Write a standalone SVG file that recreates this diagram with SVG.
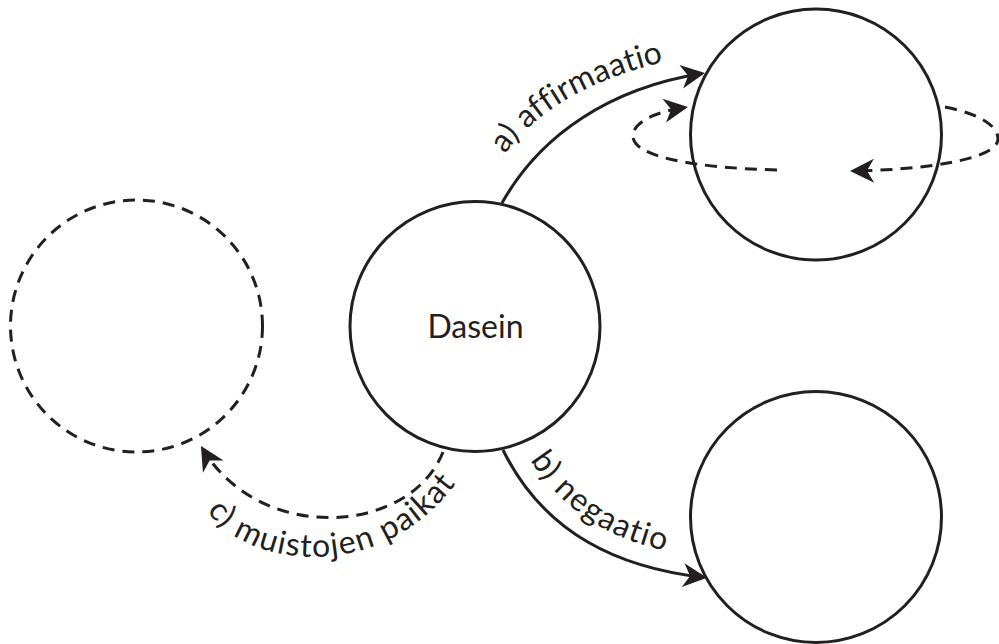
<svg xmlns="http://www.w3.org/2000/svg" width="999" height="644" viewBox="0 0 999 644">
  <style>
    .node { fill: none; stroke: #231f20; stroke-width: 3; }
    .dash { stroke-dasharray: 12 8; }
    .conn { fill: none; stroke: #231f20; stroke-width: 3; }
    .lbl { font-family: Lato, "Open Sans", sans-serif; fill: #231f20; }
    .edge-lbl { font-size: 32px; letter-spacing: 1.3px; }
  </style>
  <defs>
    <marker id="arr" markerUnits="userSpaceOnUse" viewBox="-24 -13 28 26" refX="0" refY="0" markerWidth="28" markerHeight="26" orient="auto">
      <path d="M3,0 L-21,-12 L-14,0 L-21,12 Z" fill="#231f20"/>
    </marker>
    <path id="pa" d="M505,154 C537,110 592,78 672,60"/>
    <path id="pb" d="M530,460 C565,513 610,540 676,553"/>
    <path id="pc" d="M207,511 C250,570 385,585 460,478"/>
  </defs>

  <g id="dasein">
    <circle class="node" cx="475" cy="326.5" r="125"/>
    <text class="lbl" x="475.5" y="338" font-size="32" text-anchor="middle">Dasein</text>
  </g>
  <g id="affirmaatio-node">
    <circle class="node" cx="816" cy="134.5" r="125.5"/>
  </g>
  <g id="negaatio-node">
    <circle class="node" cx="816" cy="517" r="125.5"/>
  </g>
  <g id="muisto-node">
    <circle class="node dash" cx="136.5" cy="326" r="126"/>
  </g>

  <g id="connectors">
    <path class="conn" d="M502,203 C540,135 610,88 702,73.5" marker-end="url(#arr)"/>
    <path class="conn" d="M503,450 C545,535 620,568 704,577.5" marker-end="url(#arr)"/>
    <path class="conn dash" d="M443,452 C410,535 260,545 202.5,448.5" marker-end="url(#arr)"/>
    <path class="conn dash" d="M945,107 C985,115 998,128 998,139 C998,160 920,170 853,171" marker-end="url(#arr)"/>
    <path class="conn dash" d="M777,170 C700,168 633,158 633,136 C633,122 655,112 685,107.5" marker-end="url(#arr)"/>
  </g>

  <g id="labels">
    <text class="lbl edge-lbl" style="letter-spacing:0.2px"><textPath href="#pa">a) affirmaatio</textPath></text>
    <text class="lbl edge-lbl"><textPath href="#pb">b) negaatio</textPath></text>
    <text class="lbl edge-lbl"><textPath href="#pc">c) muistojen paikat</textPath></text>
  </g>
</svg>
